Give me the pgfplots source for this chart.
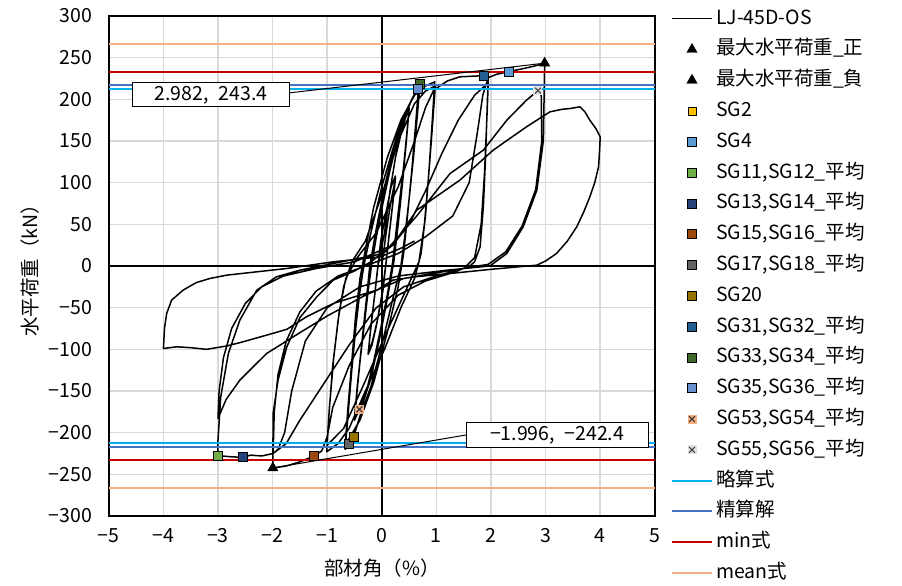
\documentclass[border=0pt]{standalone}
\usepackage{fontspec}
\setmainfont{Noto Sans CJK JP}
\usepackage{pgfplots}
\pgfplotsset{compat=1.18}
\definecolor{gridgray}{HTML}{D9D9D9}
\definecolor{sgtwo}{HTML}{FFC000}
\definecolor{sgfour}{HTML}{5B9BD5}
\definecolor{sgeleven}{HTML}{70AD47}
\definecolor{sgthirteen}{HTML}{264478}
\definecolor{sgfifteen}{HTML}{9E480E}
\definecolor{sgseventeen}{HTML}{636363}
\definecolor{sgtwenty}{HTML}{997300}
\definecolor{sgthirtyone}{HTML}{255E91}
\definecolor{sgthirtythree}{HTML}{43682B}
\definecolor{sgthirtyfive}{HTML}{698ED0}
\definecolor{sgfiftythree}{HTML}{F4B183}
\definecolor{sgfiftyfive}{HTML}{E0E0E0}
\definecolor{ryaku}{HTML}{00B0F0}
\definecolor{seisan}{HTML}{4472C4}
\definecolor{minc}{HTML}{C80000}
\definecolor{meanc}{HTML}{F4B183}
\newcommand\fs{\fontsize{19.5pt}{23pt}\selectfont}
\pgfdeclareplotmark{boxx}{%
  \pgfpathrectangle{\pgfpoint{-\pgfplotmarksize}{-\pgfplotmarksize}}{\pgfpoint{2\pgfplotmarksize}{2\pgfplotmarksize}}%
  \pgfusepathqfill
  \pgfpathmoveto{\pgfpoint{-.65\pgfplotmarksize}{-.65\pgfplotmarksize}}%
  \pgfpathlineto{\pgfpoint{.65\pgfplotmarksize}{.65\pgfplotmarksize}}%
  \pgfpathmoveto{\pgfpoint{-.65\pgfplotmarksize}{.65\pgfplotmarksize}}%
  \pgfpathlineto{\pgfpoint{.65\pgfplotmarksize}{-.65\pgfplotmarksize}}%
  \pgfusepathqstroke}
\begin{document}
\begin{tikzpicture}
\begin{axis}[name=ax, scale only axis, width=546pt, height=500pt,
  xmin=-5, xmax=5, ymin=-300, ymax=300,
  xtick={-5,...,5}, xticklabels={−5,−4,−3,−2,−1,0,1,2,3,4,5},
  ytick={-300,-250,...,300},
  yticklabels={−300,−250,−200,−150,−100,−50,0,50,100,150,200,250,300},
  grid=major, major grid style={draw=gridgray, line width=1.6pt},
  major tick length=0pt,
  axis line style={line width=1.5pt, black},
  tick label style={font=\fs},
  xticklabel style={yshift=-9pt},
  yticklabel style={xshift=-13pt},
  xlabel={部材角（\%）}, ylabel={水平荷重（kN）},
  label style={font=\fs},
  xlabel style={at={(axis description cs:0.5,-0.104)}, anchor=center},
  ylabel style={at={(axis description cs:-0.145,0.5)}, anchor=center},
  legend image code/.code={\draw[mark repeat=2,mark phase=2,#1] plot coordinates {(0pt,0pt) (20pt,0pt) (40pt,0pt)};},
  legend cell align=left,
  legend style={at={(1,1)}, anchor=north west, xshift=13pt, yshift=10pt,
    draw=none, fill=none, font=\fs, row sep=9.8pt, column sep=2pt,
    nodes={inner sep=1pt, text height=15pt, text depth=4pt}},
]
\draw[black, line width=1.5pt] (axis cs:0,-300) -- (axis cs:0,300);
\draw[black, line width=1.5pt] (axis cs:-5,0) -- (axis cs:5,0);

\addplot[black, line width=1.5pt, line join=round] coordinates {
(0,0)(0.08,40)(0.16,75)(0.25,105)(0.21,80)(0.14,40)(0.08,5)(0.02,-30)(-0.08,-65)(-0.17,-90)(-0.25,-105)(-0.21,-80)(-0.14,-40)(-0.08,-5)(-0.02,30)
(0.08,65)(0.17,95)(0.25,108)(0.2,75)(0.13,35)(0.07,0)(0,-35)(-0.1,-72)(-0.18,-95)(-0.25,-106)(-0.2,-72)(-0.13,-35)(-0.07,0)
(0.05,40)(0.15,90)(0.25,130)(0.35,158)(0.43,177)(0.5,190)(0.46,160)(0.4,120)(0.32,75)(0.25,35)(0.2,5)(0.1,-35)(-0.02,-75)(-0.15,-115)(-0.28,-150)(-0.41,-172)(-0.5,-185)(-0.46,-155)(-0.4,-115)(-0.32,-70)(-0.25,-30)(-0.19,0)
(-0.1,35)(0.02,75)(0.15,115)(0.3,155)(0.42,178)(0.5,188)(0.45,150)(0.38,100)(0.3,50)(0.22,5)(0.1,-40)(-0.05,-90)(-0.2,-135)(-0.35,-165)(-0.5,-182)(-0.45,-145)(-0.37,-95)(-0.29,-45)(-0.22,0)
(-0.1,45)(0.05,95)(0.2,135)(0.4,175)(0.55,200)(0.70,219)(0.65,180)(0.58,130)(0.5,80)(0.42,35)(0.35,0)(0.2,-40)(0,-95)(-0.2,-145)(-0.4,-180)(-0.515,-205)(-0.595,-214)(-0.67,-220)(-0.62,-180)(-0.55,-125)(-0.47,-70)(-0.4,-30)(-0.33,0)
(-0.2,40)(0,95)(0.2,140)(0.4,180)(0.55,200)(0.67,212)(0.62,170)(0.55,115)(0.47,60)(0.4,15)(0.3,-25)(0.1,-80)(-0.15,-140)(-0.4,-185)(-0.67,-215)(-0.62,-170)(-0.55,-115)(-0.48,-60)(-0.4,-15)(-0.3,20)
(-0.15,70)(0.1,130)(0.35,175)(0.6,205)(0.8,216)(0.97,221)(0.93,180)(0.87,120)(0.8,60)(0.72,15)(0.6,-15)(0.35,-50)(0.05,-100)(-0.3,-150)(-0.6,-195)(-0.8,-213)(-1.01,-223)(-0.97,-180)(-0.9,-120)(-0.8,-65)(-0.7,-25)(-0.55,5)(-0.3,30)
(0,85)(0.3,150)(0.6,195)(0.8,210)(0.98,216)(0.93,170)(0.86,110)(0.78,50)(0.68,5)(0.4,-35)(0.05,-85)(-0.35,-145)(-0.7,-195)(-1.0,-215)(-0.96,-170)(-0.88,-110)(-0.78,-55)(-0.66,-15)(-0.45,10)
(-0.1,40)(0.3,95)(0.6,150)(0.8,190)(0.95,211)(1.2,222)(1.43,227)(1.87,228.4)(1.95,231)(1.93,190)(1.9,130)(1.86,71)(1.8,23)(1.7,5)(1.61,0)(1.3,-8)(0.8,-18)(0.3,-35)(-0.2,-70)(-0.6,-120)(-0.9,-170)(-1.0,-205)(-1.1,-222)(-1.24,-228)(-1.5,-235)(-1.75,-240)(-1.996,-242.4)(-1.99,-177)(-1.9,-137)(-1.74,-97)(-1.5,-62)(-1.19,-37)(-0.89,-17)(-0.5,-6)(-0.2,5)
(0.2,25)(0.5,50)(0.8,90)(1.1,135)(1.4,175)(1.7,205)(1.95,220)(1.92,170)(1.88,110)(1.82,50)(1.7,10)(1.5,-3)(1.0,-12)(0.4,-25)(-0.1,-50)(-0.6,-95)(-1.1,-145)(-1.5,-185)(-1.75,-213)(-1.99,-225)(-1.97,-175)(-1.9,-130)(-1.75,-90)(-1.5,-55)(-1.2,-30)(-0.8,-12)(-0.3,0)
(0.3,15)(0.8,35)(1.3,60)(1.6,100)(1.75,160)(1.85,205)(1.95,226)(2.1,230)(2.32,233.2)(2.6,237)(2.8,240)(2.982,243.4)(2.96,151)(2.84,91)(2.59,47)(2.29,15)(1.98,0)(1.2,-5)(0.3,-12)(-0.4,-25)(-1.0,-50)(-1.4,-90)(-1.65,-150)(-1.78,-200)(-1.9,-220)(-1.99,-225)(-2.2,-228)(-2.4,-227)(-2.55,-229.6)(-2.75,-229)(-3.0,-227.6)(-3.0,-209)(-2.95,-157)(-2.81,-105)(-2.6,-65)(-2.29,-29)(-1.93,-13)(-1.5,-5)(-0.89,3)(0.03,15)
(0.64,60)(1.25,111)(1.86,139)(2.29,175)(2.65,199)(2.86,210.4)(2.92,205)(2.93,150)(2.82,92)(2.57,48)(2.27,17)(1.95,2)(1.2,-6)(0.4,-15)(-0.3,-35)(-1.0,-60)(-1.5,-80)(-2.11,-105)(-2.6,-137)(-2.85,-160)(-3.0,-183)(-2.98,-150)(-2.9,-110)(-2.75,-75)(-2.5,-45)(-2.2,-25)(-1.8,-12)(-1.2,-3)(-0.5,5)(0.2,25)
(0.64,67)(1.43,103)(2.04,139)(2.65,167)(3.08,185)(3.3,188)(3.45,189)(3.63,191)(3.72,185)(3.81,175)(3.92,165)(4.0,155)(3.99,140)(3.97,119)(3.9,100)(3.81,83)(3.7,65)(3.57,47)(3.4,30)(3.2,15)(3.0,6)(2.84,1)(2.0,-4)(1.25,-9)(0.6,-13)(0.2,-17)(-0.09,-29)(-0.5,-37)(-0.89,-45)(-1.38,-61)(-1.74,-76)(-2.11,-83)(-2.6,-92)(-2.84,-96)(-3.21,-100)(-3.5,-98)(-3.76,-97)(-4.0,-99)(-3.98,-75)(-3.94,-57)(-3.85,-41)(-3.64,-29)(-3.4,-20)(-3.15,-15)(-2.84,-11)(-1.74,-3)(-0.89,5)(-0.03,11)(0.34,21)(0.6,30)
};
\addlegendentry{LJ-45D-OS}

\addplot[only marks, mark=triangle*, mark size=6pt, black] coordinates {(2.982,243.4)};
\addlegendentry{最大水平荷重\_正}
\addplot[only marks, mark=triangle*, mark size=6pt, black] coordinates {(-1.996,-242.4)};
\addlegendentry{最大水平荷重\_負}
\addlegendimage{only marks, mark=square*, mark size=4pt, mark options={fill=sgtwo, draw=black, line width=0.9pt}}
\addlegendentry{SG2}
\addplot[only marks, mark=square*, mark size=4.5pt, mark options={fill=sgfour, draw=black, line width=0.9pt}] coordinates {(2.32,233.2)};
\addlegendentry{SG4}
\addplot[only marks, mark=square*, mark size=4.5pt, mark options={fill=sgeleven, draw=black, line width=0.9pt}] coordinates {(-3.0,-227.6)};
\addlegendentry{SG11,SG12\_平均}
\addplot[only marks, mark=square*, mark size=4.5pt, mark options={fill=sgthirteen, draw=black, line width=0.9pt}] coordinates {(-2.55,-229.6)};
\addlegendentry{SG13,SG14\_平均}
\addplot[only marks, mark=square*, mark size=4.5pt, mark options={fill=sgfifteen, draw=black, line width=0.9pt}] coordinates {(-1.24,-228)};
\addlegendentry{SG15,SG16\_平均}
\addplot[only marks, mark=square*, mark size=4.5pt, mark options={fill=sgseventeen, draw=black, line width=0.9pt}] coordinates {(-0.595,-214)};
\addlegendentry{SG17,SG18\_平均}
\addplot[only marks, mark=square*, mark size=4.5pt, mark options={fill=sgtwenty, draw=black, line width=0.9pt}] coordinates {(-0.515,-205)};
\addlegendentry{SG20}
\addplot[only marks, mark=square*, mark size=4.5pt, mark options={fill=sgthirtyone, draw=black, line width=0.9pt}] coordinates {(1.87,228.4)};
\addlegendentry{SG31,SG32\_平均}
\addplot[only marks, mark=square*, mark size=4.5pt, mark options={fill=sgthirtythree, draw=black, line width=0.9pt}] coordinates {(0.70,219)};
\addlegendentry{SG33,SG34\_平均}
\addplot[only marks, mark=square*, mark size=4.5pt, mark options={fill=sgthirtyfive, draw=black, line width=0.9pt}] coordinates {(0.67,212)};
\addlegendentry{SG35,SG36\_平均}
\addplot[only marks, mark=boxx, mark size=4.5pt, mark options={fill=sgfiftythree, draw=black!80, line width=1.1pt}] coordinates {(-0.41,-172)};
\addlegendentry{SG53,SG54\_平均}
\addplot[only marks, mark=boxx, mark size=4.5pt, mark options={fill=sgfiftyfive, draw=black!75, line width=1.1pt}] coordinates {(2.86,210.4)};
\addlegendentry{SG55,SG56\_平均}

\addplot[ryaku, line width=2pt] coordinates {(-5,212)(5,212)};
\addlegendentry{略算式}
\addplot[forget plot, ryaku, line width=2pt] coordinates {(-5,-212)(5,-212)};
\addplot[seisan, line width=2pt] coordinates {(-5,217)(5,217)};
\addlegendentry{精算解}
\addplot[forget plot, seisan, line width=2pt] coordinates {(-5,-217)(5,-217)};
\addplot[minc, line width=2pt] coordinates {(-5,233)(5,233)};
\addlegendentry{min式}
\addplot[forget plot, minc, line width=2pt] coordinates {(-5,-233)(5,-233)};
\addplot[meanc, line width=2pt] coordinates {(-5,266)(5,266)};
\addlegendentry{mean式}
\addplot[forget plot, meanc, line width=2pt] coordinates {(-5,-266)(5,-266)};

\draw[black, line width=1pt] (axis cs:-1.71,207.6) -- (axis cs:2.982,243.4);
\draw[black, line width=1pt] (axis cs:1.54,-202.8) -- (axis cs:-1.996,-242.4);
\node[draw=black, fill=white, line width=1pt, minimum width=157pt, minimum height=24pt, inner sep=0pt, font=\fs] at (axis cs:-3.128,205.2) {2.982,\enspace 243.4};
\node[draw=black, fill=white, line width=1pt, minimum width=182pt, minimum height=25pt, inner sep=0pt, font=\fs] at (axis cs:3.211,-203.4) {−1.996,\enspace −242.4};
\end{axis}
\path[use as bounding box] ([xshift=-108.8pt,yshift=-65pt]ax.south west) rectangle ([xshift=247.2pt,yshift=16pt]ax.north east);
\end{tikzpicture}
\end{document}
